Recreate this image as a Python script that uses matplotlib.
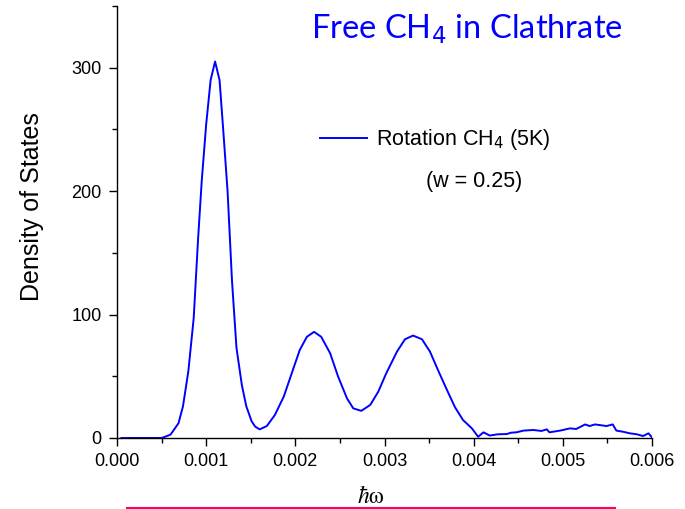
import matplotlib
matplotlib.use('Agg')
import matplotlib.pyplot as plt
from matplotlib.lines import Line2D
from matplotlib.ticker import MultipleLocator

# energy (hbar*omega) and density of states
energy = [0.00005, 0.0005, 0.0006, 0.00069, 0.00074, 0.0008, 0.00086, 0.00091,
          0.00095, 0.001, 0.00105, 0.0011, 0.00115, 0.00119, 0.00124, 0.00129,
          0.00134, 0.0014, 0.00145, 0.00151, 0.00155, 0.0016, 0.00168, 0.00177,
          0.00187, 0.00196, 0.00205, 0.00213, 0.00221, 0.00229, 0.00239, 0.00248,
          0.00258, 0.00265, 0.00274, 0.00284, 0.00293, 0.00302, 0.00314, 0.00323,
          0.00332, 0.00342, 0.00351, 0.0036, 0.0037, 0.00379, 0.00388, 0.00398,
          0.00405, 0.00411, 0.00418, 0.00427, 0.00437, 0.00442, 0.00448, 0.00456,
          0.00467, 0.00476, 0.00482, 0.00485, 0.00497, 0.00508, 0.00515, 0.00525,
          0.0053, 0.00536, 0.00549, 0.00556, 0.0056, 0.00568, 0.00575, 0.00583,
          0.0059, 0.00596, 0.006]
dos = [0, 0, 2.7, 12, 25.7, 54, 97, 162,
       208, 254, 290, 305, 290, 251, 200, 127,
       73, 43, 25.7, 13.5, 9.2, 7, 9.7, 18.6,
       33.5, 52.5, 71.4, 82, 86, 82, 68.7, 49.7,
       32, 24, 22, 26.8, 37.5, 52.5, 70, 80,
       83, 80, 70, 55, 39, 25, 14.6, 7.8,
       1, 4.6, 2, 3, 3.2, 4.3, 4.6, 6,
       6.5, 5.7, 7, 4.6, 6, 7.8, 7.3, 11,
       9.7, 11, 9.7, 11, 6, 5, 3.8, 3,
       1.6, 3.8, 0.5]

x_ticks = [0.000, 0.001, 0.002, 0.003, 0.004, 0.005, 0.006]
y_ticks = [0, 100, 200, 300]

plt.rcParams['font.family'] = ['Liberation Sans', 'DejaVu Sans']

fig = plt.figure(figsize=(6.85, 5.09), dpi=100)
ax = fig.add_axes([117 / 685, 1 - 438 / 509, (652 - 117) / 685, (438 - 6) / 509])

ax.plot(energy, dos, color='#0000ff', linewidth=1.4,
        label='Rotation CH$_4$ (5K)')

ax.set_xlim(0, 0.006)
ax.set_ylim(0, 350)
ax.set_xticks(x_ticks)
ax.set_xticklabels(['%.3f' % t for t in x_ticks])
ax.set_yticks(y_ticks)
ax.xaxis.set_minor_locator(MultipleLocator(0.0005))
ax.yaxis.set_minor_locator(MultipleLocator(50))

for side in ['top', 'right']:
    ax.spines[side].set_visible(False)
for side in ['left', 'bottom']:
    ax.spines[side].set_linewidth(1.0)

ax.tick_params(which='major', direction='out', length=6, width=1.0,
               labelsize=13, pad=5)
ax.tick_params(which='minor', direction='out', length=3.5, width=1.0)

leg = ax.legend(loc='center left', bbox_to_anchor=(320 / 685, 1 - 140 / 509),
                bbox_transform=fig.transFigure, frameon=False, fontsize=15.5,
                handlelength=2.2, handletextpad=0.4, borderpad=0,
                borderaxespad=0)
fig.text(474.5 / 685, 1 - 181 / 509, '(w = 0.25)', fontsize=15.5,
         ha='center', va='center')

fig.text(31.7 / 685, 1 - 207 / 509, 'Density of States', fontsize=18,
         rotation=90, ha='center', va='center')
fig.text(371 / 685, 1 - 497 / 509, r'$\hbar\mathrm{\omega}$', fontsize=17,
         math_fontfamily='stix', ha='center', va='center')

fig.text(311 / 685, 1 - 38.3 / 509, 'Free CH$_4$ in Clathrate', fontsize=23.5,
         family=['Lato', 'DejaVu Sans'], color='#0000ff',
         ha='left', va='baseline')

fig.add_artist(Line2D([126.7 / 685, 615 / 685], [1 - 508 / 509, 1 - 508 / 509],
                      transform=fig.transFigure, color='#ff0066', linewidth=1.5))

fig.savefig('out.png', dpi=100)
